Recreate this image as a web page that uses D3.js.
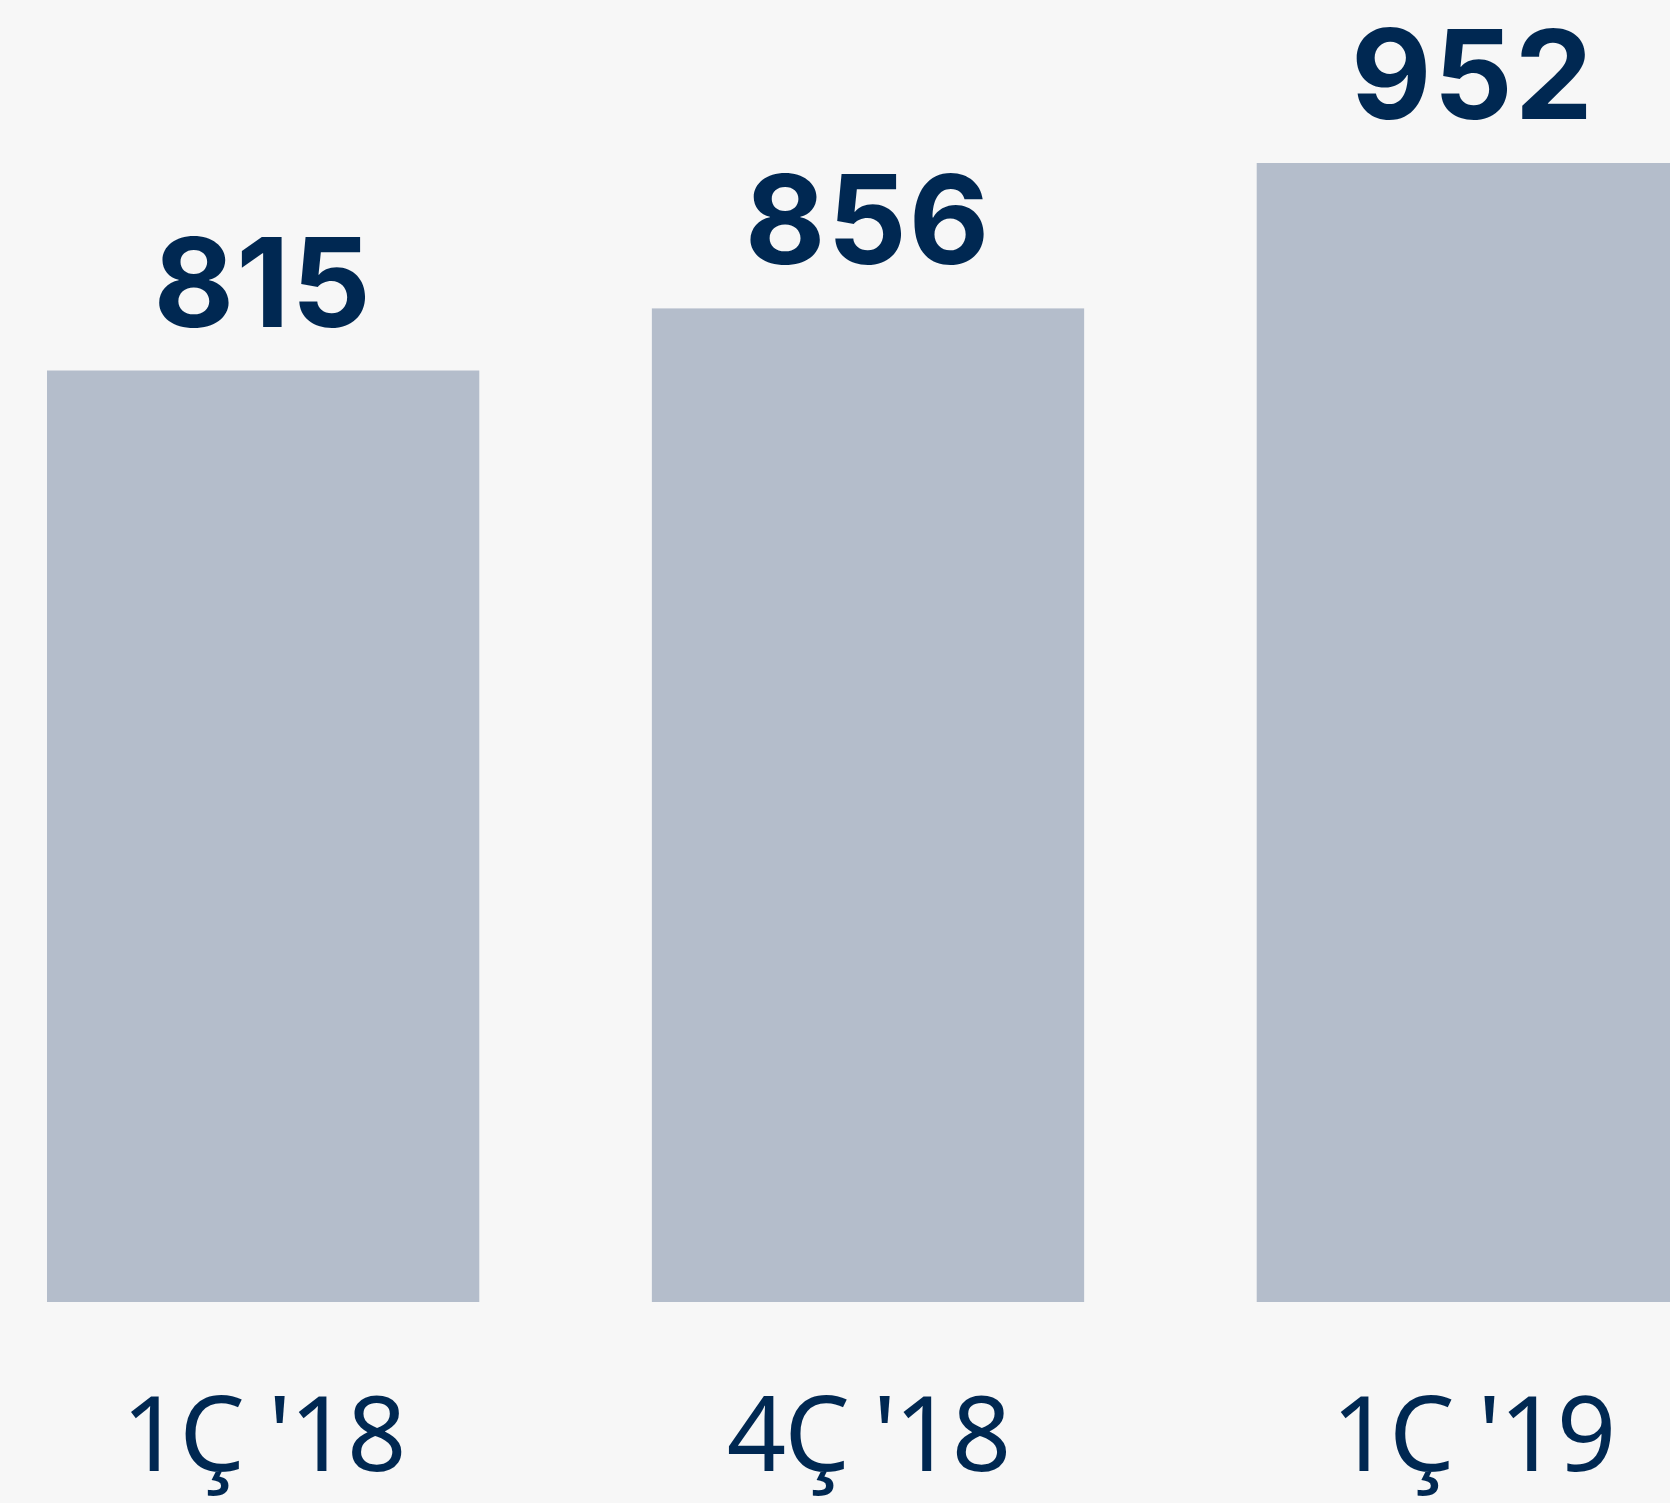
<!DOCTYPE html>
<html>
<head>
<meta charset="utf-8">
<script src="https://cdn.jsdelivr.net/npm/d3@7"></script>
<style>
  html, body { margin: 0; padding: 0; background: #f7f7f7; }
  svg { display: block; }
</style>
</head>
<body>
<div id="chart"></div>
<script>
// data
var categories = ["1Ç '18", "4Ç '18", "1Ç '19"];
var values = [815, 856, 952];

var width = 1670;
var height = 1503;

var svg = d3.select("#chart").append("svg")
  .attr("width", width)
  .attr("height", height);

svg.append("rect").attr("width", width).attr("height", height).attr("fill", "#f7f7f7");

// x: bands, the last bar runs off the right edge
var x = d3.scaleBand().domain(categories).range([47, 1689]).paddingInner(0.2853).paddingOuter(0);

// y: axis does not start at zero
var y = d3.scaleLinear().domain([200, 952]).range([1302, 163]);

var data = categories.map(function(c, i) { return {cat: c, value: values[i]}; });

svg.selectAll("rect.bar").data(data).enter().append("rect")
  .attr("class", "bar")
  .attr("x", function(d) { return x(d.cat); })
  .attr("y", function(d) { return y(d.value); })
  .attr("width", x.bandwidth())
  .attr("height", function(d) { return y(200) - y(d.value); })
  .attr("fill", "#b4bdcb");

// value labels
svg.selectAll("text.val").data(data).enter().append("text")
  .attr("class", "val")
  .attr("x", function(d) { return x(d.cat) + x.bandwidth() / 2; })
  .attr("y", function(d) { return y(d.value) - 44; })
  .attr("text-anchor", "middle")
  .attr("fill", "#002852")
  .style("font-family", "Inter, sans-serif")
  .style("font-weight", 700)
  .style("font-size", "124px")
  .style("font-kerning", "none")
  .style("letter-spacing", "2px")
  .text(function(d) { return d.value; });

// category axis, no line or ticks
var xAxis = svg.append("g")
  .attr("transform", "translate(0," + y(200) + ")")
  .call(d3.axisBottom(x).tickSize(0).tickPadding(169));
xAxis.select(".domain").remove();
xAxis.selectAll("text")
  .attr("fill", "#002852")
  .attr("dy", 0)
  .style("font-family", "'Noto Sans', sans-serif")
  .style("font-weight", 400)
  .style("font-size", "104px")
  .style("letter-spacing", "-2px");
</script>
</body>
</html>
